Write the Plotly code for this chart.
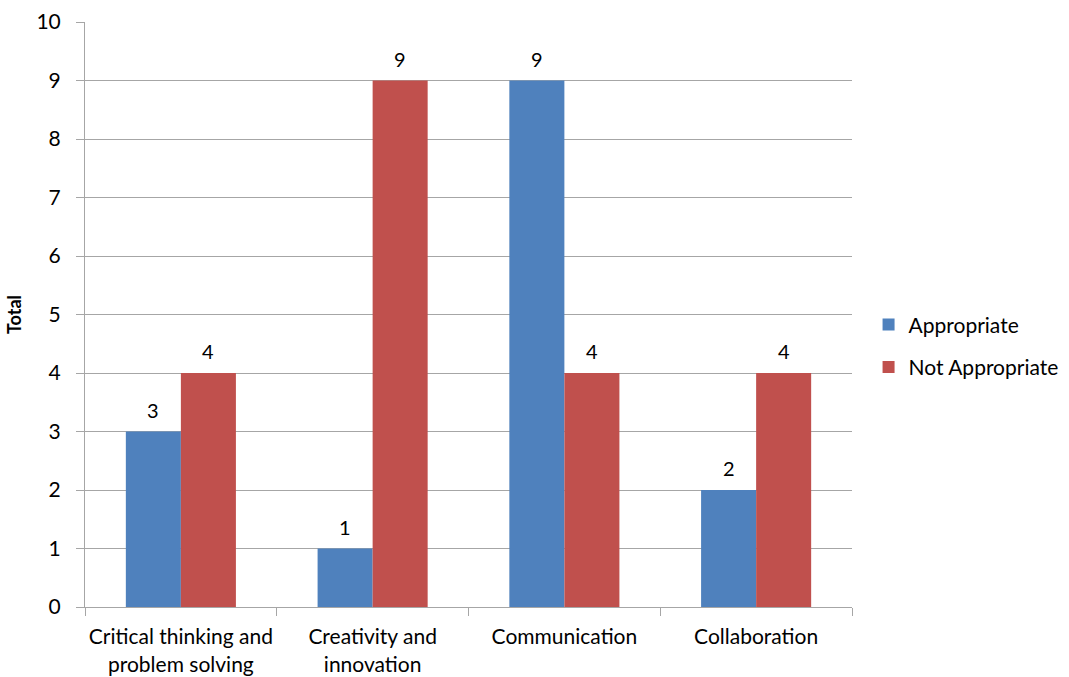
import plotly.graph_objects as go

categories = ["Critical thinking and<br>problem solving", "Creativity and<br>innovation", "Communication", "Collaboration"]
appropriate = [3, 1, 9, 2]
not_appropriate = [4, 9, 4, 4]
y_ticks = list(range(0, 11))

FONT = "Lato, 'Open Sans', sans-serif"
FS = 21

fig = go.Figure()
fig.add_trace(go.Bar(name="Appropriate", x=categories, y=appropriate,
                     marker=dict(color="#4F81BD", line=dict(width=0)),
                     offsetgroup="a", legendgroup="a"))
fig.add_trace(go.Bar(name="Not Appropriate", x=categories, y=not_appropriate,
                     marker=dict(color="#C0504D", line=dict(width=0)),
                     offsetgroup="b", legendgroup="b"))

# data labels above each bar (positioned via data coords)
for i, (c, a, n) in enumerate(zip(categories, appropriate, not_appropriate)):
    fig.add_annotation(x=i, y=a, xref="x", yref="y", text=str(a), showarrow=False,
                       xshift=-27.5, yshift=22, font=dict(size=20, family=FONT, color="#000"))
    fig.add_annotation(x=i, y=n, xref="x", yref="y", text=str(n), showarrow=False,
                       xshift=27.5, yshift=22, font=dict(size=20, family=FONT, color="#000"))

fig.update_layout(
    width=1069, height=677,
    margin=dict(l=85, r=217, t=22, b=70),
    paper_bgcolor="white", plot_bgcolor="white",
    barmode="group", bargap=0.426, bargroupgap=0,
    font=dict(family=FONT, size=FS, color="#000000"),
    showlegend=True,
    legend=dict(xref="container", yref="container", x=0.8125, y=0.489,
                xanchor="left", yanchor="middle",
                font=dict(size=21, family=FONT), tracegroupgap=12,
                itemwidth=30, bgcolor="rgba(0,0,0,0)"),
    xaxis=dict(showline=True, linecolor="#A6A6A6", linewidth=1, automargin=False,
               ticks="outside", tickson="boundaries", ticklen=8, tickcolor="#A6A6A6",
               tickangle=0,
               showgrid=False, tickfont=dict(size=FS, family=FONT), ticklabelstandoff=11),
    yaxis=dict(range=[0, 10], tickvals=y_ticks, showline=True, linecolor="#A6A6A6",
               linewidth=1, ticks="outside", ticklen=8, tickcolor="#A6A6A6", automargin=False,
               showgrid=True, gridcolor="#A6A6A6", gridwidth=1, zeroline=False,
               tickfont=dict(size=FS, family=FONT), ticklabelstandoff=11,
               title=dict(text="<b>Total</b>", font=dict(size=18, family=FONT), standoff=10)),
)

fig.write_html("out.html")
